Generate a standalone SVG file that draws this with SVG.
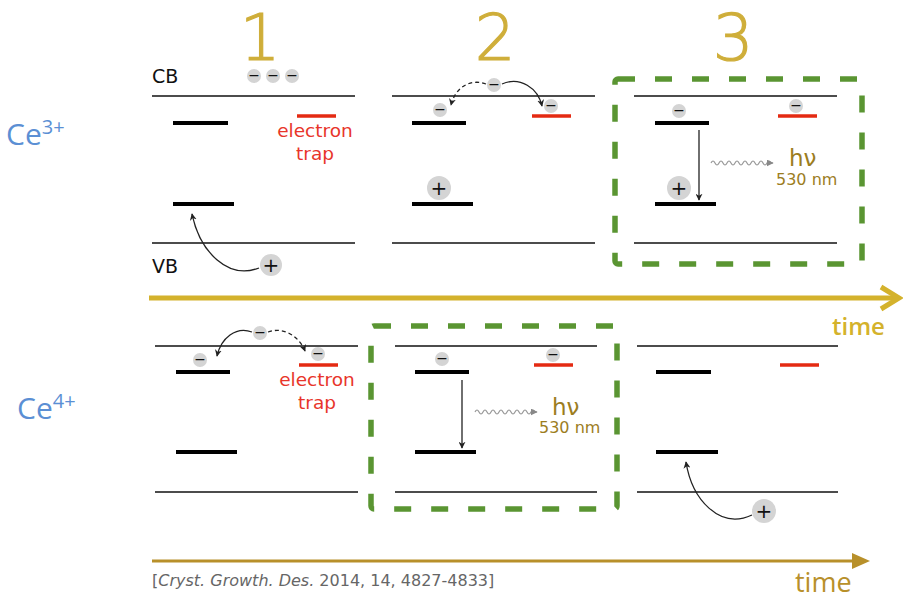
<svg xmlns="http://www.w3.org/2000/svg" width="903" height="594" viewBox="0 0 903 594">
<defs>
<marker id="ah" viewBox="0 0 10 10" refX="9" refY="5" markerWidth="7" markerHeight="7" orient="auto" markerUnits="userSpaceOnUse"><path d="M0,0 L10,5 L0,10 L3,5 z" fill="#222"/></marker>
<marker id="ahg" viewBox="0 0 10 10" refX="9" refY="5" markerWidth="7" markerHeight="7" orient="auto" markerUnits="userSpaceOnUse"><path d="M0,0 L10,5 L0,10 z" fill="#888"/></marker>
<path id="wave" d="M0,0 q2,-4 4,0 t4,0 t4,0 t4,0 t4,0 t4,0 t4,0 t4,0 t4,0 t4,0 t4,0 t4,0 t4,0 t4,0 t4,0"/>
</defs>
<style>
.band{stroke:#111;stroke-width:1.3}
.lvl{stroke:#000;stroke-width:4}
.trap{stroke:#e42a12;stroke-width:3.5}
.chg{fill:#d4d4d4}
.sym{font-family:"DejaVu Sans",sans-serif;fill:#111;text-anchor:middle;dominant-baseline:central}
.lbl{font-family:"DejaVu Sans",sans-serif;font-size:19px;fill:#111}
.red{font-family:"DejaVu Sans",sans-serif;font-size:18.5px;fill:#e8352a;text-anchor:middle}
.num{font-family:"DejaVu Sans",sans-serif;font-weight:200;font-size:64px;fill:#cfae3a;stroke:#cfae3a;stroke-width:1.2;text-anchor:middle}
.hv{font-family:"DejaVu Sans",sans-serif;font-size:23px;fill:#9c7d1e}
.nm{font-family:"DejaVu Sans",sans-serif;font-size:16px;fill:#9c7d1e}
.box{fill:none;stroke:#5a9532;stroke-width:5.5;stroke-dasharray:17 20}
.arr{fill:none;stroke:#222;stroke-width:1.3}
.dash{stroke-dasharray:4 3}
.wv{fill:none;stroke:#999;stroke-width:1.2}
.ce{font-family:"Open Sans","Liberation Sans",sans-serif;fill:#5b8fd4}
</style>
<rect width="903" height="594" fill="#fff"/>

<g id="labels">
<text class="ce" x="6" y="145" font-size="30">Ce<tspan font-size="20" dy="-11">3+</tspan></text>
<text class="ce" x="17" y="419" font-size="30">Ce<tspan font-size="20" dy="-11">4+</tspan></text>
<text class="num" x="260" y="60">1</text>
<text class="num" x="495" y="60">2</text>
<text class="num" x="733" y="60">3</text>
<text x="152" y="586" font-family="DejaVu Sans,sans-serif" font-size="16" fill="#666">[<tspan font-style="italic">Cryst. Growth. Des.</tspan> 2014, 14, 4827-4833]</text>
</g>

<g id="time-top">
<line x1="149" y1="298" x2="898" y2="298" stroke="#d4b22c" stroke-width="5"/>
<path d="M881,287 L899,298 L881,309" fill="none" stroke="#d4b22c" stroke-width="5"/>
<text x="832" y="335" font-family="Open Sans,Liberation Sans,sans-serif" font-size="24" font-weight="600" fill="#d4b22c">time</text>
</g>
<g id="time-bottom">
<line x1="152" y1="561" x2="856" y2="561" stroke="#b8902a" stroke-width="3"/>
<path d="M852,553 L870,561 L852,569 z" fill="#b8902a"/>
<text x="795" y="592" font-family="Open Sans,Liberation Sans,sans-serif" font-size="27" fill="#b8902a">time</text>
</g>

<g id="ce3-panel1">
<text class="lbl" x="152" y="83">CB</text>
<text class="lbl" x="152" y="273">VB</text>
<line class="band" x1="152" y1="96" x2="355" y2="96"/>
<line class="band" x1="152" y1="243" x2="355" y2="243"/>
<line class="lvl" x1="173" y1="123" x2="228" y2="123"/>
<line class="lvl" x1="173" y1="204" x2="234" y2="204"/>
<line class="trap" x1="297" y1="116" x2="336" y2="116"/>
<text class="red" x="315" y="137">electron</text>
<text class="red" x="315" y="160">trap</text>
<circle class="chg" cx="254" cy="76" r="7"/><circle class="chg" cx="273" cy="76" r="7"/><circle class="chg" cx="292" cy="76" r="7"/>
<text class="sym" x="254" y="75" font-size="14">−</text><text class="sym" x="273" y="75" font-size="14">−</text><text class="sym" x="292" y="75" font-size="14">−</text>
<circle class="chg" cx="271" cy="265" r="11"/><text class="sym" x="271" y="265" font-size="20">+</text>
</g>

<g id="ce3-panel2">
<line class="band" x1="392" y1="96" x2="595" y2="96"/>
<line class="band" x1="392" y1="243" x2="595" y2="243"/>
<line class="lvl" x1="412" y1="123" x2="466" y2="123"/>
<line class="lvl" x1="412" y1="204" x2="473" y2="204"/>
<line class="trap" x1="532" y1="116" x2="571" y2="116"/>
<circle class="chg" cx="440" cy="110" r="7"/><text class="sym" x="440" y="109" font-size="14">−</text>
<circle class="chg" cx="551" cy="106" r="7"/><text class="sym" x="551" y="105" font-size="14">−</text>
<circle class="chg" cx="494" cy="85" r="7"/><text class="sym" x="494" y="84" font-size="14">−</text>
<circle class="chg" cx="439" cy="188" r="12"/><text class="sym" x="439" y="188" font-size="20">+</text>
</g>

<g id="ce3-panel3">
<rect class="box" x="615" y="79" width="247" height="185" rx="3"/>
<line class="band" x1="634" y1="96" x2="837" y2="96"/>
<line class="band" x1="634" y1="243" x2="837" y2="243"/>
<line class="lvl" x1="655" y1="123" x2="709" y2="123"/>
<line class="lvl" x1="655" y1="204" x2="716" y2="204"/>
<line class="trap" x1="778" y1="116" x2="817" y2="116"/>
<circle class="chg" cx="679" cy="111" r="7"/><text class="sym" x="679" y="110" font-size="14">−</text>
<circle class="chg" cx="796" cy="106" r="7"/><text class="sym" x="796" y="105" font-size="14">−</text>
<circle class="chg" cx="679" cy="188" r="12"/><text class="sym" x="679" y="188" font-size="20">+</text>
<text class="hv" x="789" y="166">hν</text>
<text class="nm" x="776" y="185">530 nm</text>
</g>

<g id="ce4-panel1">
<line class="band" x1="155" y1="346" x2="358" y2="346"/>
<line class="band" x1="155" y1="492" x2="358" y2="492"/>
<line class="lvl" x1="176" y1="372" x2="230" y2="372"/>
<line class="lvl" x1="176" y1="452" x2="237" y2="452"/>
<line class="trap" x1="299" y1="365" x2="338" y2="365"/>
<text class="red" x="317" y="386">electron</text>
<text class="red" x="317" y="409">trap</text>
<circle class="chg" cx="200" cy="360" r="7"/><text class="sym" x="200" y="359" font-size="14">−</text>
<circle class="chg" cx="260" cy="333" r="7"/><text class="sym" x="260" y="332" font-size="14">−</text>
<circle class="chg" cx="318" cy="354" r="7"/><text class="sym" x="318" y="353" font-size="14">−</text>
</g>

<g id="ce4-panel2">
<rect class="box" x="371" y="326" width="246" height="183" rx="3"/>
<line class="band" x1="395" y1="346" x2="597" y2="346"/>
<line class="band" x1="395" y1="492" x2="597" y2="492"/>
<line class="lvl" x1="415" y1="372" x2="469" y2="372"/>
<line class="lvl" x1="415" y1="452" x2="476" y2="452"/>
<line class="trap" x1="534" y1="365" x2="573" y2="365"/>
<circle class="chg" cx="442" cy="359" r="7"/><text class="sym" x="442" y="358" font-size="14">−</text>
<circle class="chg" cx="553" cy="355" r="7"/><text class="sym" x="553" y="354" font-size="14">−</text>
<text class="hv" x="552" y="415">hν</text>
<text class="nm" x="539" y="433">530 nm</text>
</g>

<g id="ce4-panel3">
<line class="band" x1="637" y1="346" x2="838" y2="346"/>
<line class="band" x1="637" y1="492" x2="838" y2="492"/>
<line class="lvl" x1="656" y1="372" x2="711" y2="372"/>
<line class="lvl" x1="656" y1="452" x2="718" y2="452"/>
<line class="trap" x1="780" y1="365" x2="819" y2="365"/>
<circle class="chg" cx="764" cy="511" r="12"/><text class="sym" x="764" y="511" font-size="20">+</text>
</g>

<g id="connectors">
<path class="arr" d="M259,268 C228,280 200,252 192,214" marker-end="url(#ah)"/>
<path class="arr dash" d="M486,84 C470,78 455,88 451,105" marker-end="url(#ah)"/>
<path class="arr" d="M502,84 C520,76 538,88 542,106" marker-end="url(#ah)"/>
<line class="arr" x1="699" y1="130" x2="699" y2="200" marker-end="url(#ah)"/>
<use href="#wave" x="711" y="163" class="wv"/>
<line x1="770" y1="163" x2="773" y2="163" stroke="#999" stroke-width="1.2" marker-end="url(#ahg)"/>
<path class="arr" d="M252,332 C236,326 221,338 217,356" marker-end="url(#ah)"/>
<path class="arr dash" d="M268,332 C285,326 300,338 305,351" marker-end="url(#ah)"/>
<line class="arr" x1="462" y1="380" x2="462" y2="448" marker-end="url(#ah)"/>
<use href="#wave" x="475" y="412" class="wv"/>
<line x1="534" y1="412" x2="537" y2="412" stroke="#999" stroke-width="1.2" marker-end="url(#ahg)"/>
<path class="arr" d="M752,515 C720,530 692,500 686,462" marker-end="url(#ah)"/>
</g>
</svg>
